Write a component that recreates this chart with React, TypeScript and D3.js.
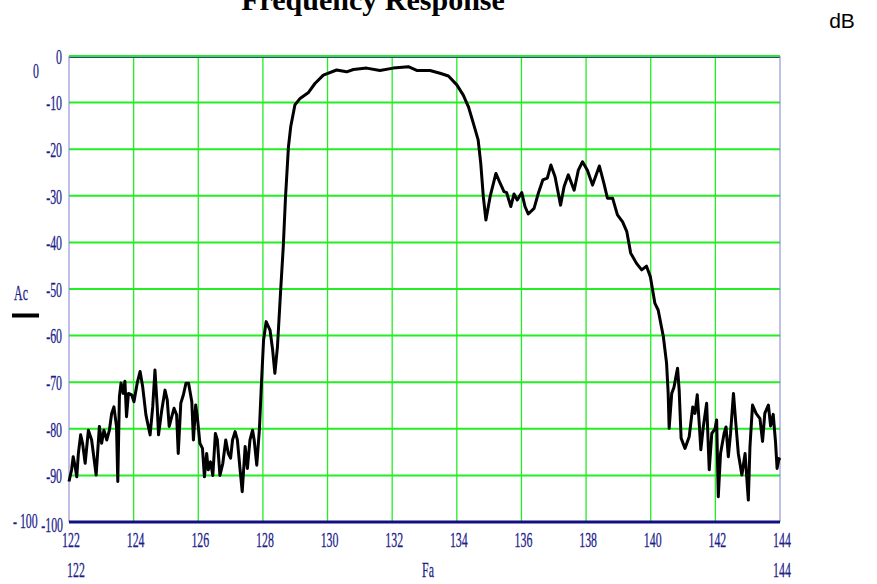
import { useEffect, useRef } from 'react'
import * as d3 from 'd3'

// Measured trace, frequency (x) and attenuation in dB
const freq = [
  122.0, 122.08, 122.13, 122.19, 122.24, 122.29, 122.36, 122.42, 122.5, 122.6,
  122.7, 122.84, 122.94, 123.01, 123.08, 123.17, 123.25, 123.32, 123.39, 123.47,
  123.51, 123.56, 123.61, 123.68, 123.73, 123.78, 123.84, 123.94, 124.01, 124.11,
  124.2, 124.28, 124.38, 124.51, 124.59, 124.66, 124.73, 124.77, 124.87, 124.97,
  125.04, 125.1, 125.18, 125.25, 125.33, 125.38, 125.46, 125.54, 125.62, 125.7,
  125.8, 125.85, 125.92, 125.97, 126.05, 126.13, 126.19, 126.26, 126.31, 126.38,
  126.45, 126.53, 126.59, 126.67, 126.76, 126.85, 126.93, 127.0, 127.06, 127.14,
  127.21, 127.29, 127.36, 127.45, 127.52, 127.6, 127.68, 127.73, 127.81, 127.89,
  127.96, 128.02, 128.1, 128.22, 128.3, 128.37, 128.45, 128.55, 128.63, 128.7,
  128.79, 128.86, 128.99, 129.15, 129.4, 129.61, 129.87, 130.28, 130.59, 130.8,
  131.21, 131.62, 132.03, 132.5, 132.76, 133.17, 133.48, 133.74, 134.0, 134.2,
  134.36, 134.51, 134.66, 134.74, 134.82, 134.9, 135.03, 135.21, 135.34, 135.46,
  135.54, 135.67, 135.77, 135.87, 136.01, 136.11, 136.21, 136.39, 136.52, 136.66,
  136.8, 136.91, 137.04, 137.21, 137.32, 137.45, 137.63, 137.76, 137.89, 138.04,
  138.2, 138.41, 138.55, 138.66, 138.82, 138.97, 139.13, 139.26, 139.38, 139.56,
  139.72, 139.87, 139.99, 140.13, 140.23, 140.39, 140.49, 140.54, 140.57, 140.65,
  140.72, 140.78, 140.83, 140.88, 140.94, 141.06, 141.19, 141.3, 141.37, 141.44,
  141.5, 141.55, 141.63, 141.73, 141.81, 141.89, 141.99, 142.04, 142.09, 142.16,
  142.27, 142.33, 142.4, 142.47, 142.56, 142.64, 142.71, 142.82, 142.92, 143.02,
  143.07, 143.15, 143.26, 143.38, 143.46, 143.53, 143.64, 143.71, 143.79, 143.86,
  143.91, 143.97, 144.0,
]
const ac = [
  -91.3, -88.8, -86.0, -88.1, -90.3, -85.3, -81.3, -83.1, -87.4, -80.3,
  -82.4, -89.9, -79.5, -83.1, -80.3, -82.4, -80.3, -76.7, -75.3, -79.5,
  -91.3, -73.1, -70.2, -72.4, -69.8, -77.4, -72.4, -72.7, -74.2, -70.2,
  -67.7, -71.0, -77.0, -81.3, -75.3, -67.4, -75.3, -81.3, -76.0, -71.7,
  -73.8, -79.5, -77.4, -75.6, -77.0, -85.3, -74.5, -72.7, -70.2, -70.2,
  -74.2, -82.4, -74.9, -77.4, -83.1, -84.2, -90.3, -85.3, -88.8, -87.1,
  -90.0, -81.0, -82.4, -90.0, -87.4, -82.4, -85.3, -86.3, -82.4, -80.6,
  -82.4, -88.5, -93.5, -83.8, -88.5, -82.4, -80.3, -82.4, -87.8, -80.3,
  -69.5, -61.0, -57.0, -58.8, -63.0, -68.1, -62.4, -50.2, -40.9, -30.2,
  -19.5, -15.2, -10.5, -9.1, -7.9, -5.9, -4.1, -3.0, -3.4, -2.9,
  -2.6, -3.1, -2.6, -2.3, -3.1, -3.1, -3.7, -4.3, -6.2, -8.4,
  -10.9, -14.4, -18.0, -23.0, -30.2, -35.2, -30.2, -25.2, -27.3, -29.1,
  -29.3, -32.3, -29.6, -30.9, -29.3, -32.3, -33.9, -32.7, -29.5, -26.6,
  -26.2, -23.4, -25.9, -32.0, -28.0, -25.5, -28.8, -24.5, -22.7, -24.5,
  -27.7, -23.6, -27.3, -30.5, -30.5, -34.1, -35.6, -37.7, -42.3, -44.5,
  -45.9, -45.1, -47.4, -53.1, -54.5, -60.2, -65.9, -72.4, -79.9, -72.4,
  -71.1, -68.8, -67.0, -71.7, -82.0, -84.2, -81.7, -75.3, -76.7, -72.7,
  -78.8, -84.5, -79.4, -74.5, -88.8, -81.0, -80.0, -78.1, -94.6, -85.3,
  -81.0, -79.6, -86.0, -81.0, -72.4, -79.4, -85.3, -89.9, -85.3, -95.3,
  -83.9, -74.9, -76.7, -77.8, -82.7, -76.7, -74.9, -79.4, -76.9, -82.7,
  -88.5, -86.4, -86.7,
]

const xTicks = [122, 124, 126, 128, 130, 132, 134, 136, 138, 140, 142, 144]
const yTicks = [0, -10, -20, -30, -40, -50, -60, -70, -80, -90]

const W = 877
const H = 584
const NAVY = '#1c1c8a'
const GRID = '#22ee22'

// narrow serif text like the old plotting package
function narrowText(g, x, y, str, anchor = 'middle', size = 22) {
  g.append('g')
    .attr('transform', `translate(${x},${y}) scale(0.54,1)`)
    .append('text')
    .attr('text-anchor', anchor)
    .attr('dy', '0.35em')
    .attr('font-family', '"Liberation Serif", serif')
    .attr('font-size', size)
    .attr('fill', NAVY)
    .attr('stroke', NAVY)
    .attr('stroke-width', 0.3)
    .text(str)
}

function FrequencyChart() {
  const svgRef = useRef(null)

  useEffect(() => {
    const svg = d3.select(svgRef.current)
    svg.selectAll('*').remove()

    const x = d3.scaleLinear().domain([122, 144]).range([69, 780])
    const y = d3.scaleLinear().domain([0, -100]).range([56, 522])

    svg.append('rect').attr('width', W).attr('height', H).attr('fill', '#fff')

    // ── Grid ────────────────────────────────────────────
    const grid = svg.append('g')
    grid.selectAll('line.v')
      .data(xTicks.slice(1, -1))
      .join('line')
      .attr('x1', d => x(d)).attr('x2', d => x(d))
      .attr('y1', y(0)).attr('y2', y(-100))
      .attr('stroke', GRID).attr('stroke-width', 1.3)
    grid.selectAll('line.h')
      .data(yTicks)
      .join('line')
      .attr('x1', x(122)).attr('x2', x(144))
      .attr('y1', d => y(d)).attr('y2', d => y(d))
      .attr('stroke', GRID).attr('stroke-width', 2)

    // ── Frame ───────────────────────────────────────────
    svg.append('line')
      .attr('x1', x(122)).attr('x2', x(144))
      .attr('y1', y(0) + 1.5).attr('y2', y(0) + 1.5)
      .attr('stroke', '#3a3aa0').attr('stroke-width', 1)
    svg.append('line')
      .attr('x1', x(122)).attr('x2', x(122))
      .attr('y1', y(0)).attr('y2', y(-100))
      .attr('stroke', '#8080cc').attr('stroke-width', 1)
    svg.append('line')
      .attr('x1', x(144)).attr('x2', x(144))
      .attr('y1', y(0)).attr('y2', y(-100))
      .attr('stroke', '#8080cc').attr('stroke-width', 1)

    // ── Curve ───────────────────────────────────────────
    const line = d3.line()
      .x(d => x(d[0]))
      .y(d => y(d[1]))
    svg.append('path')
      .datum(freq.map((f, i) => [f, ac[i]]))
      .attr('d', line)
      .attr('fill', 'none')
      .attr('stroke', '#000')
      .attr('stroke-width', 3)
      .attr('stroke-linejoin', 'round')

    svg.append('line')
      .attr('x1', x(122)).attr('x2', x(144))
      .attr('y1', y(-100)).attr('y2', y(-100))
      .attr('stroke', '#101080').attr('stroke-width', 3)

    // ── Tick labels ─────────────────────────────────────
    const labels = svg.append('g')
    yTicks.forEach(t => narrowText(labels, 62, y(t), String(t), 'end'))
    narrowText(labels, 63, y(-100) + 2, '-100', 'end')
    narrowText(labels, 13, y(-100) - 2, '- 100', 'start')
    narrowText(labels, 39, 70, '0', 'end')
    xTicks.forEach(t => narrowText(labels, x(t) + 2, 539, String(t)))
    narrowText(labels, 76, 569, '122')
    narrowText(labels, 782, 569, '144')
    narrowText(labels, 428, 569, 'Fa')

    // ── Legend ──────────────────────────────────────────
    narrowText(labels, 21, 292, 'Ac')
    svg.append('line')
      .attr('x1', 12).attr('x2', 39)
      .attr('y1', 315.5).attr('y2', 315.5)
      .attr('stroke', '#000').attr('stroke-width', 4)

    // ── Titles ──────────────────────────────────────────
    svg.append('text')
      .attr('x', 373).attr('y', 10)
      .attr('text-anchor', 'middle')
      .attr('font-family', '"Liberation Serif", serif')
      .attr('font-weight', 'bold')
      .attr('font-size', 30)
      .text('Frequency Response')
    svg.append('text')
      .attr('x', 842).attr('y', 28)
      .attr('text-anchor', 'middle')
      .attr('font-family', '"Liberation Sans", Arial, sans-serif')
      .attr('font-size', 21)
      .text('dB')
  }, [])

  return (
    <svg
      ref={svgRef}
      width={W}
      height={H}
      style={{ position: 'absolute', left: 0, top: 0 }}
    />
  )
}

export default function App() {
  return <FrequencyChart />
}
